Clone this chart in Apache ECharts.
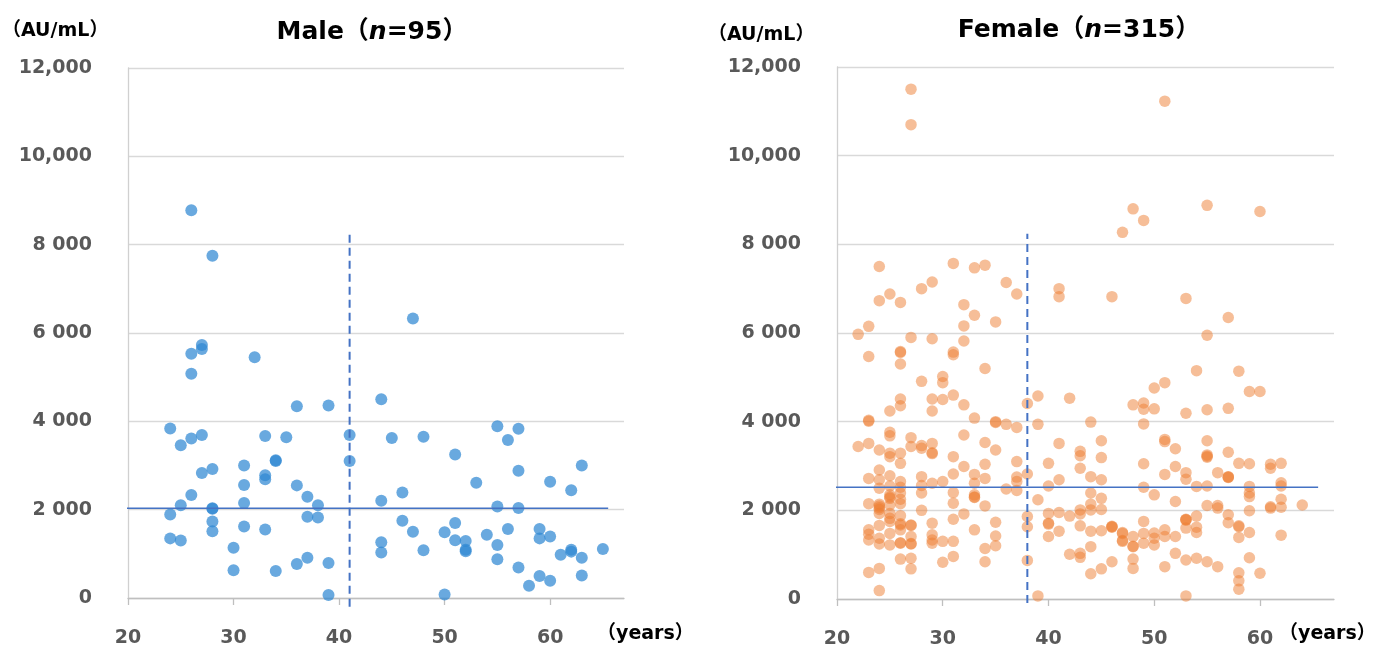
<!DOCTYPE html>
<html><head><meta charset="utf-8">
<script src="https://cdn.jsdelivr.net/npm/echarts@6/dist/echarts.min.js"></script>
<style>html,body{margin:0;padding:0;background:#fff}#c{width:1399px;height:650px}</style>
</head><body><div id="c"></div>
<script>
// ---------- data ----------
const xTicks = [20, 30, 40, 50, 60];
const yTicks = [0, 2000, 4000, 6000, 8000, 10000, 12000];
const yTickLabels = ['0', '2 000', '4 000', '6 000', '8 000', '10,000', '12,000'];

// [age (years), value (AU/mL)]
const maleData = [
  [26,8780],[28,7750],[27,5730],[27,5640],[26,5530],[32,5450],[26,5080],[36,4340],[39,4360],[44,4500],
  [24,3840],[25,3460],[26,3610],[27,3690],[33,3670],[35,3640],[41,3690],[45,3620],[34,3120],[34,3100],
  [41,3100],[27,2830],[28,2920],[31,3000],[33,2780],[33,2690],[26,2330],[31,2560],[36,2550],[37,2290],
  [38,2100],[25,2100],[31,2150],[24,1890],[28,2030],[28,2020],[28,1730],[28,1510],[37,1840],[38,1820],
  [44,2200],[46,2390],[46,1750],[31,1620],[33,1550],[24,1350],[25,1300],[30,1140],[36,770],[37,910],
  [39,790],[30,630],[34,610],[39,70],[44,1260],[44,1030],[47,6330],[48,3650],[51,3250],[55,3890],
  [56,3580],[57,3830],[57,2880],[53,2610],[60,2630],[62,2440],[63,3000],[55,2070],[57,2040],[47,1500],
  [51,1700],[50,1490],[51,1310],[52,1290],[52,1090],[52,1060],[54,1430],[55,1200],[56,1560],[59,1560],
  [59,1350],[60,1390],[48,1080],[55,880],[57,690],[58,280],[59,500],[60,390],[61,980],[62,1090],
  [62,1050],[63,910],[63,510],[65,1110],[50,80]
];
const femaleData = [
  [27,11500],[27,10700],[51,11230],[48,8800],[49,8540],[47,8270],[55,8880],[60,8740],[24,7500],[31,7570],
  [33,7470],[34,7530],[29,7150],[28,7000],[25,6880],[36,7140],[37,6880],[41,7000],[41,6820],[24,6730],
  [26,6690],[32,6640],[33,6400],[32,6160],[35,6250],[23,6150],[22,5970],[27,5900],[29,5870],[32,5820],
  [26,5580],[26,5560],[31,5570],[31,5510],[23,5470],[46,6820],[53,6780],[57,6350],[55,5950],[26,5300],
  [34,5200],[54,5150],[58,5140],[28,4910],[30,5020],[30,4880],[31,4600],[32,4380],[26,4510],[26,4360],
  [25,4240],[29,4510],[29,4240],[30,4500],[23,4030],[23,4010],[33,4080],[35,4000],[35,3980],[36,3940],
  [37,3870],[38,4410],[39,4580],[39,3940],[42,4530],[44,3990],[48,4380],[49,4420],[49,4280],[50,4290],
  [50,4760],[49,3950],[51,4880],[59,4680],[60,4680],[53,4190],[55,4270],[57,4300],
  [22,3440],[23,3510],[24,3360],[25,3760],[25,3680],[25,3290],[25,3210],[26,3290],[26,3060],[27,3640],
  [27,3440],[28,3460],[28,3400],[29,3510],[29,3300],[29,3280],[31,3210],[32,3700],[32,2990],[34,3530],
  [34,3040],[35,3360],[37,3100],[41,3510],[43,3330],[43,3230],[45,3570],[45,3190],[40,3060],[49,3050],
  [51,3600],[51,3550],[52,3390],[55,3570],[55,3250],[55,3200],[57,3310],[58,3060],[59,3050],[61,3040],
  [62,3060],[43,2950],[61,2950],[52,2990],
  [24,2910],[24,2690],[23,2720],[25,2780],[25,2550],[24,2500],[26,2650],[26,2520],[28,2760],[28,2560],
  [28,2390],[29,2610],[30,2650],[25,2350],[25,2270],[23,2150],[24,2140],[24,2060],[24,2100],[25,2120],
  [26,2390],[26,2150],[31,2820],[33,2810],[33,2610],[34,2720],[37,2750],[37,2650],[38,2820],[31,2400],
  [31,2160],[33,2350],[33,2290],[36,2480],[37,2450],[34,2100],[39,2240],[41,2690],[44,2760],[45,2690],
  [40,2550],[49,2520],[50,2350],[44,2390],[45,2270],[44,2140],[44,2010],[43,2010],[45,2020],[53,2850],
  [53,2700],[56,2850],[57,2760],[57,2740],[51,2810],[54,2540],[55,2550],[59,2540],[59,2390],[59,2310],
  [62,2620],[62,2550],[52,2200],[55,2110],[56,2110],[56,2050],[61,2080],[61,2050],[62,2250],[62,2070],
  [64,2120],
  [24,1930],[25,1930],[25,1820],[25,1750],[26,1880],[26,1670],[26,1560],[27,1670],[27,1660],[27,1410],
  [27,1240],[24,1660],[23,1560],[23,1460],[23,1330],[24,1370],[24,1240],[25,1480],[25,1220],[26,1270],
  [26,1260],[29,1710],[29,1450],[29,1330],[29,1260],[30,1300],[26,900],[27,920],[27,680],[24,690],
  [23,600],[24,190],[30,830],[32,1920],[31,1800],[35,1730],[38,1860],[38,1630],[33,1560],[35,1420],
  [35,1200],[31,1300],[34,1140],[31,960],[34,840],[38,870],[39,70],[43,1920],[40,1930],[41,1950],
  [42,1870],[40,1710],[40,1690],[40,1410],[41,1530],[43,1650],[44,1530],[45,1540],[46,1630],[46,1640],
  [47,1500],[47,1300],[47,1480],[48,1410],[48,1180],[49,1480],[49,1260],[50,1490],[50,1370],[50,1220],
  [49,1750],[42,1010],[43,1030],[43,940],[44,1180],[44,570],[45,680],[46,840],[48,900],[48,690],
  [57,1900],[57,1720],[53,1800],[53,1780],[53,1600],[54,1870],[54,1620],[54,1500],[58,1630],[58,1650],
  [58,1390],[59,1500],[59,1990],[62,1440],[51,1560],[51,1410],[52,1410],[52,1030],[53,880],[54,920],
  [55,840],[56,730],[59,930],[58,590],[58,410],[58,220],[60,580],[51,730],[53,70],
  [24,2020],[25,2300],[26,2250],[26,1700],[27,1250],[47,1320],[48,1190],[46,1620],[33,2300],[53,1790],
  [57,2750],[55,3220],[28,2000]
];

const maleMean = 2030, femaleMean = 2520;
const maleMeanSpan = [18.3, 65.5], femaleMeanSpan = [18.4, 65.5];
const maleCutAge = 41, femaleCutAge = 38;
const maleCutSpan = [-200, 8270], femaleCutSpan = [-90, 8240];

// ---------- chart ----------
const FONT = "'DejaVu Sans', 'Noto Sans CJK JP', sans-serif";
const chart = echarts.init(document.getElementById('c'), null, {renderer: 'canvas'});

function xAxis(idx) {
  return {
    type: 'value', gridIndex: idx, min: 20, max: 67,
    axisLine: {show: true, lineStyle: {color: '#BFBFBF', width: 1.3}},
    axisTick: {show: true, customValues: xTicks, length: 7, lineStyle: {color: '#BFBFBF', width: 1.3}},
    axisLabel: {customValues: xTicks, margin: 31, color: '#595959', fontFamily: FONT, fontWeight: 'bold', fontSize: 19},
    splitLine: {show: false}
  };
}
function yAxis(idx) {
  return {
    type: 'value', gridIndex: idx, min: 0, max: 12000, interval: 2000,
    axisLine: {show: true, lineStyle: {color: '#D0D0D0', width: 1.3}},
    axisTick: {show: false},
    axisLabel: {margin: 36, color: '#595959', fontFamily: FONT, fontWeight: 'bold', fontSize: 19,
      formatter: v => yTickLabels[yTicks.indexOf(v)]},
    splitLine: {show: true, lineStyle: {color: '#D9D9D9', width: 1.3}}
  };
}
function refLines(idx, mean, span, cut, cutSpan) {
  return [
    {type: 'line', xAxisIndex: idx, yAxisIndex: idx, clip: false, silent: true, symbol: 'none', z: 5,
     data: [[span[0], mean], [span[1], mean]], lineStyle: {color: '#4472C4', width: 1.5}},
    {type: 'line', xAxisIndex: idx, yAxisIndex: idx, clip: false, silent: true, symbol: 'none', z: 5,
     data: [[cut, cutSpan[0]], [cut, cutSpan[1]]], lineStyle: {color: '#4472C4', width: 2, type: [8, 5]}}
  ];
}
const titleRich = {
  b: {fontFamily: FONT, fontWeight: 'bold', fontSize: 25, color: '#000'},
  i: {fontFamily: FONT, fontWeight: 'bold', fontStyle: 'italic', fontSize: 25, color: '#000'}
};
const option = {
  animation: false,
  backgroundColor: '#fff',
  title: [
    {text: '{b|Male（}{i|n}{b|=95）}', left: 367, top: 15, textAlign: 'center', textStyle: {rich: titleRich}},
    {text: '{b|Female（}{i|n}{b|=315）}', left: 1074, top: 13, textAlign: 'center', textStyle: {rich: titleRich}}
  ],
  grid: [
    {left: 128, top: 68, width: 496, height: 530},
    {left: 837, top: 67, width: 497, height: 532}
  ],
  xAxis: [xAxis(0), xAxis(1)],
  yAxis: [yAxis(0), yAxis(1)],
  graphic: [
    {type: 'text', left: 2, top: 22, style: {text: '（AU/mL）', font: "bold 19px " + FONT, fill: '#000'}},
    {type: 'text', left: 708, top: 26, style: {text: '（AU/mL）', font: "bold 19px " + FONT, fill: '#000'}},
    {type: 'text', left: 597, top: 625, style: {text: '（years）', font: "bold 19px " + FONT, fill: '#000'}},
    {type: 'text', left: 1279, top: 625, style: {text: '（years）', font: "bold 19px " + FONT, fill: '#000'}}
  ],
  series: [
    {type: 'scatter', xAxisIndex: 0, yAxisIndex: 0, data: maleData, symbolSize: 12,
     itemStyle: {color: '#2F88D3', opacity: 0.72}},
    {type: 'scatter', xAxisIndex: 1, yAxisIndex: 1, data: femaleData, symbolSize: 11.5,
     itemStyle: {color: '#ED7D31', opacity: 0.5}},
    ...refLines(0, maleMean, maleMeanSpan, maleCutAge, maleCutSpan),
    ...refLines(1, femaleMean, femaleMeanSpan, femaleCutAge, femaleCutSpan)
  ]
};
chart.setOption(option);
</script>
</body></html>
